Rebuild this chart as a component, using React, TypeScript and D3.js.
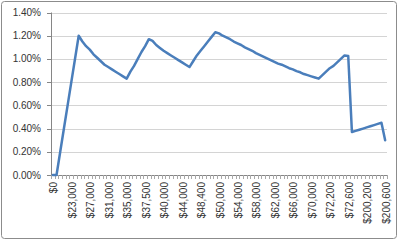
import React from "react";
import * as d3 from "d3";

const tickLabels: string[] = [
  "$0", "$23,000", "$27,000", "$31,000", "$35,000", "$37,500", "$40,000", "$44,000",
  "$48,400", "$50,000", "$54,000", "$58,000", "$62,000", "$66,000", "$70,000",
  "$72,200", "$72,600", "$200,200", "$200,600",
];

const labelEvery = 5;

// rate values (percent) per income category
const rates: number[] = [
  0, 0, 0.2, 0.4, 0.6, 0.8, 1.0, 1.2,
  1.15, 1.11, 1.08, 1.04, 1.01, 0.98, 0.95, 0.93, 0.91, 0.89, 0.87, 0.85, 0.83,
  0.89, 0.94, 1.0, 1.06, 1.11, 1.17,
  1.155, 1.12, 1.095, 1.07, 1.05, 1.03, 1.01, 0.99, 0.97, 0.95, 0.93,
  0.98, 1.03, 1.07, 1.11, 1.15, 1.19, 1.23,
  1.22, 1.2, 1.185, 1.17, 1.15, 1.135, 1.12, 1.1, 1.085, 1.07, 1.05, 1.035, 1.02,
  1.005, 0.99, 0.975, 0.96, 0.95, 0.935, 0.92, 0.91, 0.895, 0.885, 0.87, 0.86,
  0.85, 0.84, 0.83,
  0.86, 0.89, 0.92, 0.94, 0.97, 1.0, 1.03, 1.025,
  0.37, 0.38,
  0.39, 0.4, 0.41, 0.42, 0.43, 0.44, 0.45, 0.3,
];

const yTicks: number[] = [0, 0.002, 0.004, 0.006, 0.008, 0.01, 0.012, 0.014];

export default function App() {
  const W = 400;
  const H = 241;
  const left = 51;
  const right = 387;
  const top = 12.5;
  const bottom = 175;

  const idx = rates.map((_, i) => i);
  const x = d3.scaleBand<number>().domain(idx).range([left, right]).padding(0);
  const bw = x.bandwidth();
  const cx = (i: number) => (x(i) as number) + bw / 2;
  const y = d3.scaleLinear().domain([0, 0.014]).range([bottom, top]);
  const fmt = d3.format(".2%");

  const line = d3
    .line<number>()
    .x((_, i) => cx(i))
    .y((d) => y(d / 100));

  const boundaries = idx.map((i) => x(i) as number).concat([right]);
  const font = "'Liberation Sans', Arial, sans-serif";

  return (
    <svg
      width={W}
      height={H}
      style={{ position: "absolute", left: 0, top: 0, background: "#fff" }}
      fontFamily={font}
    >
      <rect x={1.5} y={1.5} width={395} height={237} rx={3} fill="#fff" stroke="#8c8c8c" strokeWidth={1} />
      {yTicks.map((t) => (
        <g key={t}>
          {t > 0 && (
            <line x1={left} x2={right} y1={Math.round(y(t)) + 0.5} y2={Math.round(y(t)) + 0.5} stroke="#d4d4d4" strokeWidth={1} />
          )}
          <line x1={left - 4} x2={left} y1={Math.round(y(t)) + 0.5} y2={Math.round(y(t)) + 0.5} stroke="#868686" />
          <text x={left - 10} y={y(t)} dy="0.35em" textAnchor="end" fontSize={10} fill="#333">
            {fmt(t)}
          </text>
        </g>
      ))}
      <line x1={left + 0.5} x2={left + 0.5} y1={top} y2={bottom + 0.5} stroke="#868686" />
      <line x1={left} x2={right} y1={bottom + 0.5} y2={bottom + 0.5} stroke="#868686" />
      {boundaries.map((b, i) => (
        <line key={i} x1={Math.round(b) + 0.5} x2={Math.round(b) + 0.5} y1={bottom} y2={bottom + 4} stroke="#a8a8a8" />
      ))}
      {tickLabels.map((lab, j) => {
        const i = j * labelEvery;
        return (
          <text
            key={lab + j}
            transform={`translate(${cx(i) + 1},${bottom + 7}) rotate(-90)`}
            dy="0.35em"
            textAnchor="end"
            fontSize={10}
            fill="#333"
          >
            {lab}
          </text>
        );
      })}
      <path
        d={line(rates) || ""}
        fill="none"
        stroke="#4A7EBB"
        strokeWidth={2.5}
        strokeLinejoin="round"
        strokeLinecap="round"
      />
    </svg>
  );
}
